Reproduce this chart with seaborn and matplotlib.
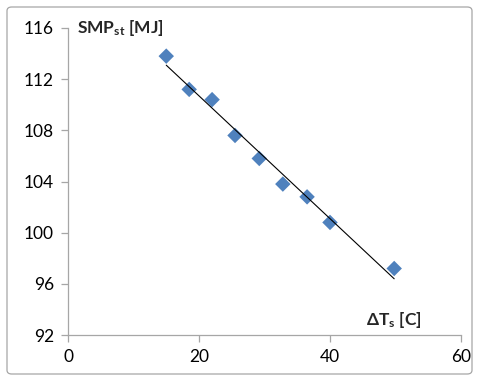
import matplotlib
matplotlib.use("Agg")
import matplotlib.pyplot as plt
from matplotlib.patches import FancyBboxPatch
import seaborn as sns
import pandas as pd

# Data
delta_ts = [15.0, 18.5, 22.0, 25.5, 29.2, 32.8, 36.5, 40.0, 49.8]
smp_st = [113.8, 111.2, 110.4, 107.6, 105.8, 103.8, 102.8, 100.8, 97.2]
x_ticks = [0, 20, 40, 60]
y_ticks = [92, 96, 100, 104, 108, 112, 116]

sns.set_style("white")
plt.rcParams['font.family'] = ['Lato', 'DejaVu Sans']
plt.rcParams['mathtext.fontset'] = 'custom'
plt.rcParams['mathtext.rm'] = 'Lato:weight=bold'
plt.rcParams['mathtext.bf'] = 'Lato:weight=bold'
plt.rcParams['mathtext.it'] = 'Lato:weight=bold'

df = pd.DataFrame({"dT": delta_ts, "SMP": smp_st})

fig = plt.figure(figsize=(4.79, 3.81), dpi=100)
ax = fig.add_axes([68/479, 1-335/381, (461-68)/479, (335-28)/381])

sns.regplot(data=df, x="dT", y="SMP", ax=ax, ci=None, truncate=True,
            marker="D",
            scatter_kws=dict(s=62, color="#4F81BD", edgecolor="none", alpha=1, zorder=2),
            line_kws=dict(color="black", lw=0.8, zorder=3))

ax.set_xlim(0, 60)
ax.set_ylim(92, 116)
ax.set_xticks(x_ticks)
ax.set_yticks(y_ticks)
ax.set_xlabel("")
ax.set_ylabel("")
for s in ["top", "right"]:
    ax.spines[s].set_visible(False)
for s in ["left", "bottom"]:
    ax.spines[s].set_color("#A6A6A6")
    ax.spines[s].set_linewidth(0.9)
ax.tick_params(axis="both", which="both", direction="out", length=5, width=0.9,
               color="#A6A6A6", labelsize=12.5, labelcolor="black", pad=5,
               left=True, bottom=True)

ax.text(0.023, 1.0, r"SMP$_{\mathbf{st}}$ [MJ]", transform=ax.transAxes,
        fontsize=12.5, fontweight="bold", ha="left", va="center")
ax.text(0.83, 0.05, r"$\mathbf{\Delta}$T$_{\mathbf{s}}$ [C]", transform=ax.transAxes,
        fontsize=12.5, fontweight="bold", ha="center", va="center")

border = FancyBboxPatch((7/479, 7/381), 465/479, 367/381,
                        boxstyle="round,pad=0,rounding_size=0.01",
                        transform=fig.transFigure, fill=False,
                        edgecolor="#A6A6A6", linewidth=0.9)
fig.patches.append(border)

fig.savefig("out.png", dpi=100)
